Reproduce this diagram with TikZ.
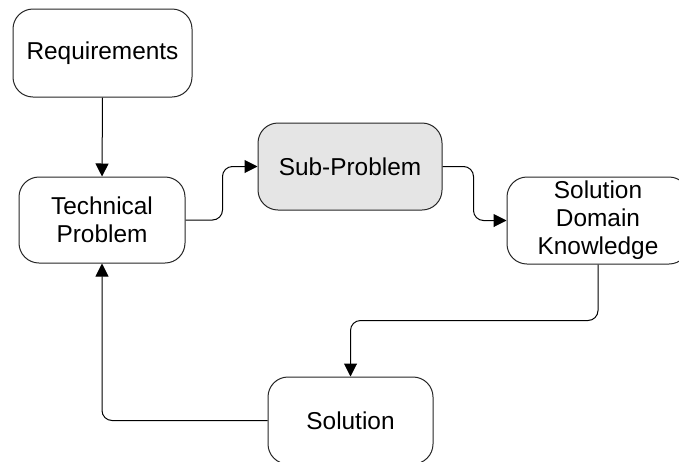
\documentclass[tikz,border=0pt]{standalone}
\usepackage{fontspec}
\setmainfont{Liberation Sans}
\usetikzlibrary{arrows.meta}
\tikzset{
  box/.style={draw=black!85, line width=1pt, rounded corners=20pt, inner sep=0pt,
    align=center, fill=white, font=\fontsize{24.4}{28}\selectfont},
  conn/.style={draw=black, line width=1pt, rounded corners=10pt,
    -{Triangle[length=13pt,width=13pt]}},
}
\begin{document}
\begin{tikzpicture}[x=1pt,y=-1pt]
  \useasboundingbox (0,0) rectangle (679,461);
  \clip (0,0) rectangle (679,461);
  % process boxes
  \node[box, minimum width=179pt, minimum height=88pt] (req) at (102.5,53) {Requirements};
  \node[box, minimum width=166pt, minimum height=86pt] (tp) at (102,220) {Technical\\Problem};
  \node[box, minimum width=184pt, minimum height=87pt, fill=black!10] (sub) at (350,166.5) {Sub-Problem};
  \node[box, minimum width=182pt, minimum height=87pt] (sdk) at (598,220.5) {Solution\\Domain\\Knowledge};
  \node[box, minimum width=165pt, minimum height=87pt] (sol) at (350.5,420.5) {Solution};
  % flow between the boxes
  \draw[conn] (req.south) -- (tp.north);
  \draw[conn] (tp.east) -- ++(37,0) |- (sub.west);
  \draw[conn] (sub.east) -- ++(31,0) |- (sdk.west);
  \draw[conn] (sdk.south) -- ++(0,56) -| (sol.north);
  \draw[conn] (sol.west) -| (tp.south);
\end{tikzpicture}
\end{document}
